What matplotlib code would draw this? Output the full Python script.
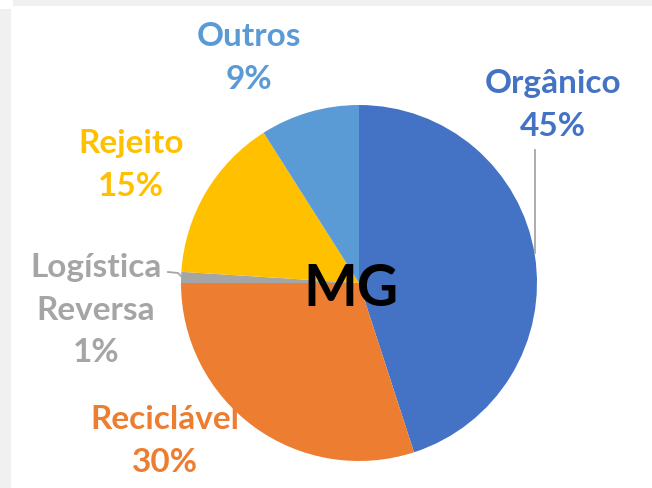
import matplotlib
matplotlib.use("Agg")
import matplotlib.pyplot as plt
from matplotlib.patches import Rectangle

plt.rcParams['font.family'] = ['Lato', 'DejaVu Sans']

# dados
categorias = ["Orgânico", "Reciclável", "Logística\nReversa", "Rejeito", "Outros"]
valores = [45, 30, 1, 15, 9]
cores = ["#4472C4", "#ED7D31", "#A5A5A5", "#FFC000", "#5B9BD5"]
titulo = "MG"

W, H = 652, 488
fig = plt.figure(figsize=(W / 100, H / 100), dpi=100)
fig.patch.set_facecolor("white")

# faixas cinzas no topo e à esquerda
fig.patches.append(Rectangle((13 / W, 1 - 6 / H), 1, 6 / H, transform=fig.transFigure,
                             facecolor="#F0F0F0", edgecolor="none"))
fig.patches.append(Rectangle((0, 0), 11 / W, 1 - 9 / H, transform=fig.transFigure,
                             facecolor="#F0F0F0", edgecolor="none"))

ax = fig.add_axes([0, 0, 1, 1])

cx, cy, r = 359, H - 283, 178
ax.pie(valores, colors=cores, startangle=90, counterclock=False,
       center=(cx, cy), radius=r, frame=True,
       wedgeprops=dict(linewidth=0))
ax.set_xlim(0, W)
ax.set_ylim(0, H)
ax.set_aspect("equal")
ax.axis("off")

# rótulos
pos = [(553, 105), (165, 441), (96, 310), (131, 165), (249, 58)]
for nome, v, c, (x, y) in zip(categorias, valores, cores, pos):
    ax.text(x, H - y, f"{nome}\n{v}%", color=c, fontsize=24, fontweight="bold",
            ha="center", va="center", linespacing=1.58)

# linhas de chamada
ax.plot([535, 535], [H - 150, H - 253], color="#A6A6A6", lw=1.3)
ax.plot([168, 178, 182], [H - 272, H - 273, H - 277], color="#A6A6A6", lw=1.3)

ax.text(cx - 8, H - 290, titulo, fontsize=41, fontweight="bold", color="black",
        ha="center", va="center")

fig.savefig("out.png", dpi=100)
